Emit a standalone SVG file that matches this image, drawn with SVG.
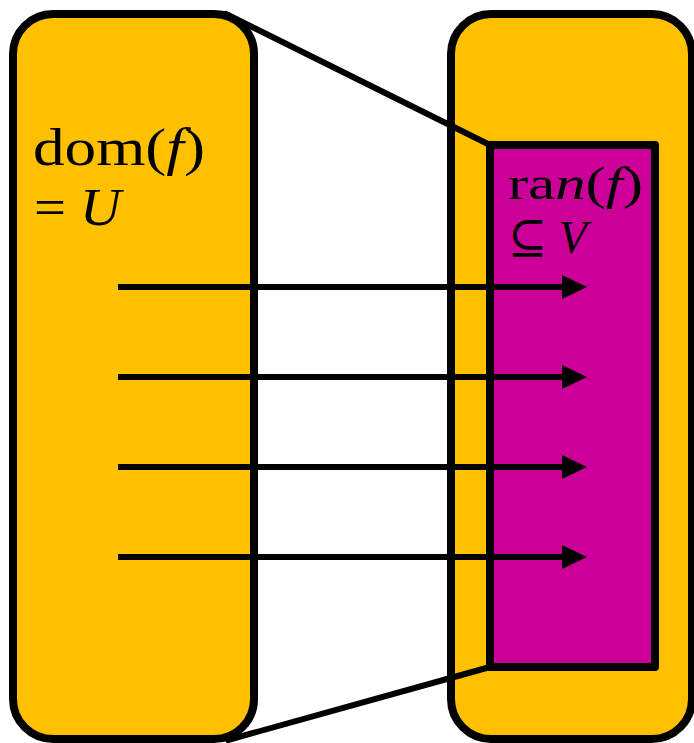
<svg xmlns="http://www.w3.org/2000/svg" width="694" height="743" viewBox="0 0 694 743">
<style>
.box{fill:#FFC000;stroke:#000;stroke-width:8}
.rng{fill:#CC0099;stroke:#000;stroke-width:8;stroke-linejoin:round}
.edge{stroke:#000;stroke-width:6;fill:none}
.funnel{stroke:#000;stroke-width:6;fill:none;stroke-linecap:round}
.lbl{font-family:"Liberation Serif","DejaVu Serif",serif;font-size:52px;fill:#000}
.sm{font-size:47px}
.it{font-style:italic}
</style>
<defs>
<marker id="ah" markerUnits="userSpaceOnUse" markerWidth="26" markerHeight="26" refX="13" refY="12" orient="auto">
<path d="M0,0 L25,12 L0,24 Z" fill="#000"/>
</marker>
</defs>
<g id="domain">
<rect class="box" x="13" y="14" width="241" height="725" rx="40" ry="40"/>
<text class="lbl" x="33" y="165" textLength="172" lengthAdjust="spacingAndGlyphs">dom(<tspan class="it">f</tspan>)</text>
<text class="lbl" x="34" y="225" textLength="87" lengthAdjust="spacingAndGlyphs">= <tspan class="it">U</tspan></text>
</g>
<g id="codomain">
<rect class="box" x="451" y="14" width="241" height="725" rx="40" ry="40"/>
</g>
<g id="funnel">
<line class="funnel" x1="226" y1="14" x2="490" y2="145"/>
<line class="funnel" x1="228" y1="740" x2="490" y2="667"/>
</g>
<g id="range">
<rect class="rng" x="490" y="145" width="165" height="522"/>
<text class="lbl sm" x="508" y="199" textLength="135" lengthAdjust="spacingAndGlyphs">ra<tspan class="it">n</tspan>(<tspan class="it">f</tspan>)</text>
<text class="lbl sm" x="508" y="253" textLength="79" lengthAdjust="spacingAndGlyphs">⊆ <tspan class="it">V</tspan></text>
</g>
<g id="connectors">
<line class="edge" x1="118" y1="287" x2="575" y2="287" marker-end="url(#ah)"/>
<line class="edge" x1="118" y1="377" x2="575" y2="377" marker-end="url(#ah)"/>
<line class="edge" x1="118" y1="467" x2="575" y2="467" marker-end="url(#ah)"/>
<line class="edge" x1="118" y1="557" x2="575" y2="557" marker-end="url(#ah)"/>
</g>
</svg>
